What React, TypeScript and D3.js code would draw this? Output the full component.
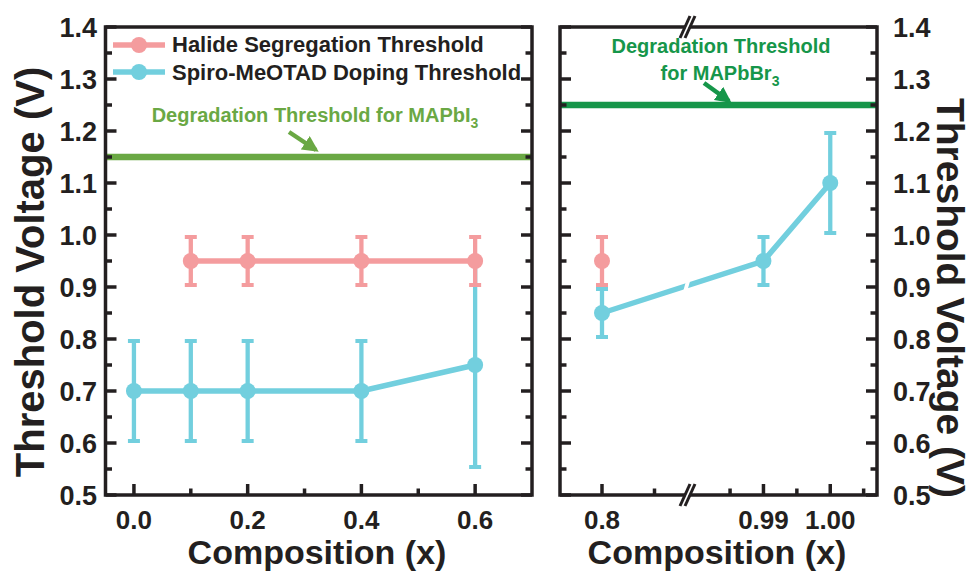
import React from "react";
import * as d3 from "d3";

const yTicks = [0.5, 0.6, 0.7, 0.8, 0.9, 1.0, 1.1, 1.2, 1.3, 1.4];
const yMinor = [0.55, 0.65, 0.75, 0.85, 0.95, 1.05, 1.15, 1.25, 1.35];

const leftXTicks = [0.0, 0.2, 0.4, 0.6];
const leftXMinor = [0.1, 0.3, 0.5];
const rightXTicks = [0.8, 0.99, 1.0];
const rightXTickLabels = ["0.8", "0.99", "1.00"];
const rightXMinor = [0.85, 0.985, 0.995, 1.005];

const halideLeftX = [0.1, 0.2, 0.4, 0.6];
const halideLeftY = [0.95, 0.95, 0.95, 0.95];
const halideLeftErr = [0.05, 0.05, 0.05, 0.05];

const spiroLeftX = [0.0, 0.1, 0.2, 0.4, 0.6];
const spiroLeftY = [0.7, 0.7, 0.7, 0.7, 0.75];
const spiroLeftErr = [0.1, 0.1, 0.1, 0.1, 0.2];

const halideRightX = [0.8];
const halideRightY = [0.95];
const halideRightErr = [0.05];

const spiroRightX = [0.8, 0.99, 1.0];
const spiroRightY = [0.85, 0.95, 1.1];
const spiroRightErr = [0.05, 0.05, 0.1];

const mapbi3Threshold = 1.15;
const mapbbr3Threshold = 1.25;

const PINK = "#F49C9E";
const BLUE = "#72CFDE";
const GREEN1 = "#6AA844";
const GREEN2 = "#16964A";
const INK = "#231F20";
const FONT = "'Liberation Sans', Arial, sans-serif";

export default function App() {
  const W = 973, H = 571;
  const top = 27, bottom = 495;
  const y = d3.scaleLinear().domain([0.5, 1.4]).range([bottom, top]);
  const xL = d3.scaleLinear().domain([-0.05, 0.7]).range([105.5, 532]);
  const xR = d3.scaleLinear().domain([0.76, 0.88, 0.979, 1.007]).range([560, 686, 690, 877]);
  const L0 = 105.5, L1 = 532, R0 = 560, R1 = 877;
  const breakX = 687;

  const lineGen = (xs: number[], ys: number[], sx: any) =>
    d3.line<number>().x((_, i) => sx(xs[i])).y((_, i) => y(ys[i]))(xs);

  const series = (xs: number[], ys: number[], es: number[], sx: any, color: string, key: string, drawLine = true) => (
    <g key={key}>
      {drawLine && xs.length > 1 && (
        <path d={lineGen(xs, ys, sx) || ""} fill="none" stroke={color} strokeWidth={5.5} />
      )}
      {xs.map((xv, i) => {
        const cx = sx(xv);
        const y1 = y(ys[i] + es[i]);
        const y2 = y(ys[i] - es[i]);
        return (
          <g key={i}>
            <line x1={cx} x2={cx} y1={y1} y2={y2} stroke={color} strokeWidth={4.3} />
            <line x1={cx - 6} x2={cx + 6} y1={y1 + 2} y2={y1 + 2} stroke={color} strokeWidth={4} />
            <line x1={cx - 6} x2={cx + 6} y1={y2 - 2} y2={y2 - 2} stroke={color} strokeWidth={4} />
            <circle cx={cx} cy={y(ys[i])} r={8} fill={color} />
          </g>
        );
      })}
    </g>
  );

  const bx0 = xR(spiroRightX[0]), bx1 = xR(spiroRightX[1]);
  const by0 = y(spiroRightY[0]), by1 = y(spiroRightY[1]);
  const byAt = by0 + ((breakX - bx0) / (bx1 - bx0)) * (by1 - by0);

  const yTickMarks = (x0: number, dir: number, k: string) => (
    <g key={k}>
      {yTicks.map((t) => (
        <line key={"M" + t} x1={x0} x2={x0 + dir * 11} y1={y(t)} y2={y(t)} stroke={INK} strokeWidth={3.5} />
      ))}
      {yMinor.map((t) => (
        <line key={"m" + t} x1={x0} x2={x0 + dir * 6.5} y1={y(t)} y2={y(t)} stroke={INK} strokeWidth={3.5} />
      ))}
    </g>
  );

  const breakMark = (cx: number, cy: number, k: string) => (
    <g key={k}>
      <polygon points={`${cx - 6},${cy + 11} ${cx + 4},${cy - 11} ${cx + 7},${cy - 11} ${cx - 3},${cy + 11}`} fill="white" />
      <line x1={cx - 7} y1={cy + 11} x2={cx + 3} y2={cy - 11} stroke={INK} strokeWidth={3} />
      <line x1={cx - 2} y1={cy + 11} x2={cx + 8} y2={cy - 11} stroke={INK} strokeWidth={3} />
    </g>
  );

  return (
    <svg width={W} height={H} style={{ position: "absolute", left: 0, top: 0, background: "white" }} fontFamily={FONT}>
      <rect x={0} y={0} width={W} height={H} fill="white" />

      <line x1={L0} x2={L1} y1={y(mapbi3Threshold)} y2={y(mapbi3Threshold)} stroke={GREEN1} strokeWidth={6.5} />
      <line x1={R0} x2={R1} y1={y(mapbbr3Threshold)} y2={y(mapbbr3Threshold)} stroke={GREEN2} strokeWidth={6.5} />

      {series(spiroLeftX, spiroLeftY, spiroLeftErr, xL, BLUE, "sl")}
      {series(halideLeftX, halideLeftY, halideLeftErr, xL, PINK, "hl")}
      {series(spiroRightX, spiroRightY, spiroRightErr, xR, BLUE, "sr")}
      {series(halideRightX, halideRightY, halideRightErr, xR, PINK, "hr")}
      <polygon
        points={`${breakX - 4},${byAt + 6} ${breakX},${byAt - 8} ${breakX + 4},${byAt - 8} ${breakX},${byAt + 6}`}
        fill="white"
      />

      <rect x={L0} y={top} width={L1 - L0} height={bottom - top} fill="none" stroke={INK} strokeWidth={3.5} />
      <rect x={R0} y={top} width={R1 - R0} height={bottom - top} fill="none" stroke={INK} strokeWidth={3.5} />

      {yTickMarks(L0, 1, "a")}
      {yTickMarks(L1, -1, "b")}
      {yTickMarks(R0, 1, "c")}
      {yTickMarks(R1, -1, "d")}

      {leftXTicks.map((t) => (
        <line key={"lx" + t} x1={xL(t)} x2={xL(t)} y1={bottom} y2={bottom - 11} stroke={INK} strokeWidth={3.5} />
      ))}
      {leftXMinor.map((t) => (
        <line key={"lxm" + t} x1={xL(t)} x2={xL(t)} y1={bottom} y2={bottom - 6.5} stroke={INK} strokeWidth={3.5} />
      ))}
      {rightXTicks.map((t) => (
        <line key={"rx" + t} x1={xR(t)} x2={xR(t)} y1={bottom} y2={bottom - 11} stroke={INK} strokeWidth={3.5} />
      ))}
      {rightXMinor.map((t) => (
        <line key={"rxm" + t} x1={xR(t)} x2={xR(t)} y1={bottom} y2={bottom - 6.5} stroke={INK} strokeWidth={3.5} />
      ))}

      {breakMark(breakX, top, "bt")}
      {breakMark(breakX, bottom, "bb")}

      {yTicks.map((t) => (
        <text key={"yl" + t} x={97} y={y(t)} dy="0.36em" textAnchor="end" fontSize={27} fontWeight="bold" fill={INK}>
          {t.toFixed(1)}
        </text>
      ))}
      {yTicks.map((t) => (
        <text key={"yr" + t} x={893} y={y(t)} dy="0.36em" textAnchor="start" fontSize={27} fontWeight="bold" fill={INK}>
          {t.toFixed(1)}
        </text>
      ))}

      {leftXTicks.map((t) => (
        <text key={"xl" + t} x={xL(t)} y={529} textAnchor="middle" fontSize={26} fontWeight="bold" fill={INK}>
          {t.toFixed(1)}
        </text>
      ))}
      {rightXTicks.map((t, i) => (
        <text key={"xr" + t} x={xR(t)} y={529} textAnchor="middle" fontSize={26} fontWeight="bold" fill={INK}>
          {rightXTickLabels[i]}
        </text>
      ))}

      <text x={317} y={564} textAnchor="middle" fontSize={34} fontWeight="bold" fill={INK}>Composition (x)</text>
      <text x={717} y={564} textAnchor="middle" fontSize={34} fontWeight="bold" fill={INK}>Composition (x)</text>
      <text transform={`translate(44,272) rotate(-90)`} textAnchor="middle" fontSize={40} fontWeight="bold" fill={INK}>
        Threshold Voltage (V)
      </text>
      <text transform={`translate(937,298) rotate(90)`} textAnchor="middle" fontSize={39} fontWeight="bold" fill={INK}>
        Threshold Voltage (V)
      </text>

      <line x1={113} x2={165} y1={45} y2={45} stroke={PINK} strokeWidth={5.5} />
      <circle cx={139} cy={45} r={8} fill={PINK} />
      <text x={172} y={52} fontSize={22} fontWeight="bold" fill={INK}>Halide Segregation Threshold</text>
      <line x1={113} x2={165} y1={72} y2={72} stroke={BLUE} strokeWidth={5.5} />
      <circle cx={139} cy={72} r={8} fill={BLUE} />
      <text x={172} y={80} fontSize={22} fontWeight="bold" fill={INK}>Spiro-MeOTAD Doping Threshold</text>

      <defs>
        <marker id="ah1" viewBox="0 0 10 10" refX="8" refY="5" markerWidth="3.6" markerHeight="3.6" orient="auto">
          <path d="M0,0 L10,5 L0,10 z" fill={GREEN1} />
        </marker>
        <marker id="ah2" viewBox="0 0 10 10" refX="8" refY="5" markerWidth="3.6" markerHeight="3.6" orient="auto">
          <path d="M0,0 L10,5 L0,10 z" fill={GREEN2} />
        </marker>
      </defs>
      <text x={315} y={122} textAnchor="middle" fontSize={20} fontWeight="bold" fill={GREEN1}>
        Degradation Threshold for MAPbI<tspan dy={6} fontSize={14}>3</tspan>
      </text>
      <line x1={289} y1={132} x2={316} y2={150} stroke={GREEN1} strokeWidth={4.5} markerEnd="url(#ah1)" />

      <text x={721} y={53} textAnchor="middle" fontSize={20} fontWeight="bold" fill={GREEN2}>Degradation Threshold</text>
      <text x={720} y={80} textAnchor="middle" fontSize={20} fontWeight="bold" fill={GREEN2}>
        for MAPbBr<tspan dy={6} fontSize={14}>3</tspan>
      </text>
      <line x1={704} y1={83} x2={729} y2={101} stroke={GREEN2} strokeWidth={4.5} markerEnd="url(#ah2)" />
    </svg>
  );
}
